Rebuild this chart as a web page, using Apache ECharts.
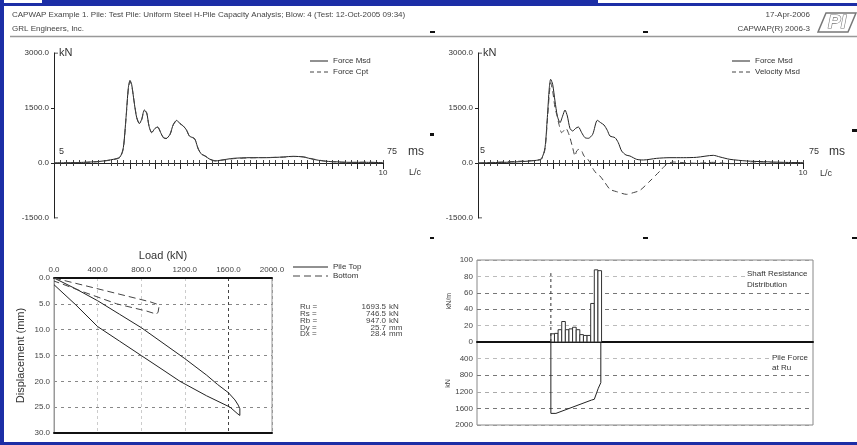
<!DOCTYPE html>
<html><head><meta charset="utf-8">
<script src="https://cdn.jsdelivr.net/npm/echarts@6/dist/echarts.min.js"></script>
<style>html,body{margin:0;padding:0;background:#fff}#c{width:857px;height:445px}</style>
</head><body><div id="c"></div>
<script>
const FONT = '"Liberation Sans", Arial, sans-serif';
const BLUE = '#1c2ea6';
const INK = '#222';

// ---------- Top-left: Force Msd / Force Cpt (time in ms, force in kN)
const tlTime = [5.0,11.24,14.79,17.62,19.04,19.75,20.32,20.82,21.17,21.52,22.02,22.59,23.16,23.65,24.22,24.72,25.21,25.78,26.49,27.06,27.70,28.26,28.83,29.68,30.39,31.10,31.81,32.52,33.23,33.79,34.50,35.00,35.71,36.42,37.13,38.19,39.26,40.32,43.16,46.70,50.25,53.79,55.92,58.05,60.18,62.30,64.43,67.98,71.52,74.93];
const tlForceMsd = [0,18,45,100,164,418,1236,2054,2254,2145,1691,1236,1073,1190,1445,1373,1009,827,945,982,827,691,664,782,1054,1163,1073,1009,891,736,691,645,373,236,191,100,55,73,127,145,145,164,182,164,100,55,36,18,18,9];
const tlForceCpt = [0,14,40,92,150,395,1205,2015,2215,2125,1705,1255,1085,1175,1425,1360,1020,840,930,972,835,700,672,775,1040,1150,1080,1000,885,745,700,650,385,245,195,108,62,70,118,140,150,160,176,168,108,60,32,14,22,8];

// ---------- Top-right: Force Msd / Velocity Msd
const trTime = [5.0,12.61,17.63,18.71,19.43,19.93,20.36,20.65,21.08,21.58,22.09,22.66,23.23,23.74,24.24,24.81,25.39,26.03,26.61,27.33,28.04,28.76,29.70,30.70,31.42,32.14,32.85,33.43,34.50,35.22,35.94,36.87,37.73,39.17,40.61,43.48,46.35,49.22,52.09,55.68,57.12,59.27,62.86,66.45,70.76,75.0];
const trForceMsd = [0,27,73,127,418,1236,2054,2282,2145,1691,1282,1100,1282,1445,1282,945,873,945,982,827,691,673,782,1163,1100,1036,891,736,691,554,327,218,191,100,82,127,145,145,155,209,164,100,55,36,18,9];
const trVelTime = [5.0,17.63,18.71,19.43,19.93,20.36,20.65,21.08,21.58,21.94,22.44,23.02,23.52,23.95,24.45,24.81,25.39,25.89,26.25,26.75,27.33,27.83,28.40,29.12,29.84,30.56,31.27,32.35,33.43,34.86,37.02,38.45,39.89,42.04,44.20,45.63,47.07,49.22,52.09,55.68,59.27,66.45,75.0];
const trVelocityMsd = [0,73,109,373,1145,1873,2190,1964,1509,1327,1054,827,891,945,827,691,418,191,327,373,327,191,145,9,-173,-291,-355,-536,-718,-782,-855,-809,-745,-491,-218,-36,27,9,-9,18,-18,0,0];

const forceTicks = [-1500, 0, 1500, 3000];
const msRange = [5, 75];
const lcRange = [-3, 10];
const msEndLabels = ['5', '75'];
const lcEndLabel = '10';

// ---------- Bottom-left: load (kN) vs displacement (mm)
const loadTicks = [0, 400, 800, 1200, 1600, 2000];
const dispTicks = [0, 5, 10, 15, 20, 25, 30];
const pileTopLoad = [0,200,400,600,800,1000,1200,1400,1500,1600,1660,1690,1705,1705,1680,1615,1400,1156,1000,800,600,400,200,0];
const pileTopDisp = [0,2.1,4.4,7.0,9.6,12.6,15.6,18.8,20.6,22.2,23.6,24.6,25.3,26.6,26.2,25.0,22.8,20.0,17.8,15.0,12.2,9.4,5.2,1.3];
const bottomLoad = [0,270,575,880,950,962,955,940,850,575,270,55,0];
const bottomDisp = [0,1.4,3.0,4.6,5.1,5.7,6.6,7.0,6.4,5.0,2.7,1.0,0.6];
const resultLabels = ['Ru =', 'Rs =', 'Rb =', 'Dy =', 'Dx ='];
const resultValues = ['1693.5', '746.5', '947.0', '25.7', '28.4'];
const resultUnits = ['kN', 'kN', 'kN', 'mm', 'mm'];

// ---------- Bottom-right: shaft resistance distribution and pile force at Ru
const shaftRes = [10, 10.5, 15, 25, 15, 16, 18, 15, 9, 8, 8, 47, 88, 87];   // kN/m per segment
const shaftTicks = [0, 20, 40, 60, 80, 100];
const pileForceTicks = [0, 400, 800, 1200, 1600, 2000];
const pileForcePos = [0, 0, 1.4, 11.2, 12.0, 13.1, 13.8, 13.8];   // segment units
const pileForceVal = [0, 1720, 1720, 1400, 1380, 1115, 980, 0];
const topMarker = [[0, 0], [0, 84]];
const depthRange = [-20.4, 72.4];

const zip = (a, b) => a.map((v, i) => [v, b[i]]);
const txt = (x, y, text, o = {}) => ({
  type: 'text', silent: true, z: 100,
  style: Object.assign({ x, y, text, font: (o.size || 8) + 'px ' + FONT, fill: o.color || '#333',
    align: o.align || 'left', verticalAlign: 'middle', textAlign: o.align || 'left', textVerticalAlign: 'middle' }, o.style || {}),
  rotation: o.rotation || 0
});
const rect = (x, y, w, h, fill) => ({ type: 'rect', silent: true, z: 100, shape: { x, y, width: w, height: h }, style: { fill } });
const seg = (x1, y1, x2, y2, dash, color) => ({ type: 'line', silent: true, z: 100, shape: { x1, y1, x2, y2 },
  style: { stroke: color || INK, lineWidth: 1, lineDash: dash || null } });

function timeAxes(g, yIdx) {
  return [
    { gridIndex: g, type: 'value', position: 'top', min: msRange[0], max: msRange[1], interval: 5,
      axisLine: { onZero: true, onZeroAxisIndex: yIdx, lineStyle: { color: INK, width: 1 } },
      axisTick: { show: false }, splitLine: { show: false }, axisLabel: { show: false } },
    { gridIndex: g, type: 'value', position: 'bottom', min: lcRange[0], max: lcRange[1], interval: 1,
      axisLine: { onZero: true, onZeroAxisIndex: yIdx, lineStyle: { color: INK, width: 1 } },
      axisTick: { show: true, length: 6, customValues: [0,1,2,3,4,5,6,7,8,9,10], lineStyle: { color: INK } },
      minorTick: { show: true, splitNumber: 4, length: 3, lineStyle: { color: '#444' } },
      splitLine: { show: false }, axisLabel: { show: false } },
    { gridIndex: g, type: 'value', position: 'top', min: lcRange[0], max: lcRange[1], interval: 1,
      axisLine: { show: false, onZero: true, onZeroAxisIndex: yIdx },
      axisTick: { show: true, length: 3, lineStyle: { color: '#444' } },
      minorTick: { show: true, splitNumber: 4, length: 3, lineStyle: { color: '#444' } },
      splitLine: { show: false }, axisLabel: { show: false } }
  ];
}
function forceAxis(g) {
  return { gridIndex: g, type: 'value', min: forceTicks[0], max: forceTicks[3], interval: 1500,
    axisLine: { show: true, onZero: false, lineStyle: { color: INK } },
    axisTick: { show: true, length: 3, customValues: [0, 1500], lineStyle: { color: INK } },
    splitLine: { show: false },
    axisLabel: { formatter: v => v.toFixed(1), fontSize: 8, margin: 5, color: '#333', fontFamily: FONT } };
}
const lineS = (name, xi, yi, data, dashed, extra = {}) => Object.assign({
  type: 'line', name, xAxisIndex: xi, yAxisIndex: yi, data, symbol: 'none', showSymbol: false,
  lineStyle: { color: dashed ? '#444' : INK, width: 1, type: dashed ? [6, 4] : 'solid' },
  itemStyle: { color: dashed ? '#444' : INK }, animation: false, silent: true
}, extra);

// legend drawn as plain text plus line swatches
function legendBlock(x1, x2, y0, dy, names, dashes) {
  const out = [];
  names.forEach((n, i) => {
    const y = y0 + i * dy;
    out.push(seg(x1, y, x2, y, dashes[i], dashes[i] ? '#444' : INK));
    out.push(txt(x2 + 5, y, n, { color: '#333' }));
  });
  return out;
}

const option = {
  animation: false,
  textStyle: { fontFamily: FONT },
  grid: [
    { left: 54, top: 53, width: 329, height: 165 },
    { left: 478, top: 53, width: 325, height: 165 },
    { left: 54, top: 278, width: 218, height: 155, show: true, borderColor: '#999', borderWidth: 1 },
    { left: 477, top: 260, width: 336, height: 82, show: true, borderColor: '#888', borderWidth: 1 },
    { left: 477, top: 342, width: 336, height: 83, show: true, borderColor: '#888', borderWidth: 1 }
  ],
  xAxis: [
    ...timeAxes(0, 0),
    ...timeAxes(1, 1),
    { gridIndex: 2, type: 'value', position: 'top', min: loadTicks[0], max: loadTicks[5], interval: 400,
      axisLine: { onZero: false, lineStyle: { color: '#111', width: 2 } }, axisTick: { show: false },
      axisLabel: { formatter: v => v.toFixed(1), fontSize: 8, margin: 4, color: '#444', fontFamily: FONT },
      name: 'Load (kN)', nameLocation: 'middle', nameGap: 17,
      nameTextStyle: { fontSize: 11, color: '#333', fontFamily: FONT },
      splitLine: { show: true, lineStyle: { type: [3, 3], width: 1, color: ['#999', '#ccc', '#ccc', '#ccc', '#444', '#999'] } } },
    { gridIndex: 2, type: 'value', position: 'bottom', min: loadTicks[0], max: loadTicks[5],
      axisLine: { onZero: false, lineStyle: { color: '#111', width: 2 } }, axisTick: { show: false },
      axisLabel: { show: false }, splitLine: { show: false } },
    { gridIndex: 3, type: 'value', position: 'bottom', min: depthRange[0], max: depthRange[1],
      axisLine: { onZero: false, lineStyle: { color: '#111', width: 2 } }, axisTick: { show: false },
      axisLabel: { show: false }, splitLine: { show: false } },
    { gridIndex: 4, type: 'value', position: 'top', min: depthRange[0], max: depthRange[1], show: false }
  ],
  yAxis: [
    forceAxis(0),
    forceAxis(1),
    { gridIndex: 2, type: 'value', inverse: true, min: dispTicks[0], max: dispTicks[6], interval: 5,
      axisLine: { show: true, onZero: false, lineStyle: { color: '#999' } }, axisTick: { show: false },
      axisLabel: { formatter: v => v.toFixed(1), fontSize: 8, margin: 4, color: '#444', fontFamily: FONT },
      splitLine: { show: true, lineStyle: { type: [3, 4], color: '#888' } },
      name: 'Displacement (mm)', nameLocation: 'middle', nameGap: 28,
      nameTextStyle: { fontSize: 11, color: '#333', fontFamily: FONT } },
    { gridIndex: 3, type: 'value', min: shaftTicks[0], max: shaftTicks[5], interval: 20,
      axisLine: { show: false }, axisTick: { show: false },
      axisLabel: { formatter: v => String(v), fontSize: 8, margin: 4, color: '#444', fontFamily: FONT },
      splitLine: { show: true, lineStyle: { type: [4, 4], color: ['#999', '#bbb', '#777', '#777', '#bbb', '#999'] } },
      name: 'kN/m', nameLocation: 'middle', nameGap: 24, nameTextStyle: { fontSize: 7, color: '#444', fontFamily: FONT } },
    { gridIndex: 4, type: 'value', inverse: true, min: pileForceTicks[0], max: pileForceTicks[5], interval: 400,
      axisLine: { show: false }, axisTick: { show: false },
      axisLabel: { formatter: v => String(v), fontSize: 8, margin: 4, color: '#444', fontFamily: FONT, showMinLabel: false },
      splitLine: { show: true, lineStyle: { type: [4, 4], color: ['#999', '#bbb', '#777', '#aaa', '#777', '#999'] } },
      name: 'kN', nameLocation: 'middle', nameGap: 24, nameTextStyle: { fontSize: 7, color: '#444', fontFamily: FONT } }
  ],
  series: [
    lineS('Force Msd', 0, 0, zip(tlTime, tlForceMsd), false, { smooth: 0.25 }),
    lineS('Force Cpt', 0, 0, zip(tlTime, tlForceCpt), true, { smooth: 0.25 }),
    lineS('', 0, 0, [[5, 3000], [5.85, 3000]], false),
    lineS('', 0, 0, [[5, -1500], [5.85, -1500]], false),
    lineS('Force Msd', 3, 1, zip(trTime, trForceMsd), false, { smooth: 0.25 }),
    lineS('Velocity Msd', 3, 1, zip(trVelTime, trVelocityMsd), true, { smooth: 0.25 }),
    lineS('', 3, 1, [[5, 3000], [5.86, 3000]], false),
    lineS('', 3, 1, [[5, -1500], [5.86, -1500]], false),
    lineS('Pile Top', 6, 2, zip(pileTopLoad, pileTopDisp), false),
    lineS('Bottom', 6, 2, zip(bottomLoad, bottomDisp), true, { lineStyle: { color: '#444', width: 1, type: [7, 4] } }),
    { type: 'custom', xAxisIndex: 8, yAxisIndex: 3, silent: true, animation: false,
      data: shaftRes.map((v, i) => [i, i + 1, v]), encode: { x: [0, 1], y: 2 },
      renderItem: (params, api) => {
        const p0 = api.coord([api.value(0), api.value(2)]);
        const p1 = api.coord([api.value(1), 0]);
        return { type: 'rect', shape: { x: p0[0], y: p0[1], width: p1[0] - p0[0], height: p1[1] - p0[1] },
          style: { fill: '#fff', stroke: '#333', lineWidth: 1 } };
      } },
    lineS('', 8, 3, topMarker, true, { lineStyle: { color: '#333', width: 1, type: [3, 3] } }),
    lineS('', 9, 4, zip(pileForcePos, pileForceVal), false)
  ],
  graphic: [
    rect(0, 0, 4, 445, BLUE),
    rect(42, 0, 556, 6, BLUE),
    rect(0, 3, 857, 3, BLUE),
    rect(0, 442, 857, 3, BLUE),
    { type: 'line', silent: true, shape: { x1: 10, y1: 36.5, x2: 857, y2: 36.5 }, style: { stroke: '#999', lineWidth: 1.5 } },
    txt(12, 15, 'CAPWAP Example 1. Pile: Test Pile: Uniform Steel H-Pile Capacity Analysis; Blow: 4 (Test: 12-Oct-2005 09:34)', { color: '#444' }),
    txt(12, 29, 'GRL Engineers, Inc.', { color: '#444' }),
    txt(810, 15, '17-Apr-2006', { align: 'right', color: '#444' }),
    txt(810, 29, 'CAPWAP(R) 2006-3', { align: 'right', color: '#444' }),
    { type: 'polygon', silent: true, shape: { points: [[818, 32], [826, 13], [856, 13], [848, 32]] },
      style: { fill: 'none', stroke: '#777', lineWidth: 1.5 } },
    txt(837, 23, 'PI', { align: 'center', size: 19, style: { font: 'italic bold 19px ' + FONT, fill: '#fff', stroke: '#777', lineWidth: 1.2 } }),
    rect(430, 31, 5, 2, '#111'), rect(643, 31, 5, 2, '#111'),
    rect(430, 133, 4, 3, '#111'), rect(852, 129, 5, 3, '#111'),
    rect(430, 237, 4, 2, '#111'), rect(643, 237, 5, 2, '#111'), rect(852, 237, 5, 2, '#111'),
    txt(59, 53, 'kN', { size: 11, color: '#333' }),
    txt(483, 53, 'kN', { size: 11, color: '#333' }),
    // time-axis end labels (ms above the line, L/c below)
    txt(59, 152, msEndLabels[0], { size: 9 }),
    txt(387, 152, msEndLabels[1], { size: 9 }),
    txt(383, 173, lcEndLabel, { size: 8, align: 'center' }),
    txt(480, 151, msEndLabels[0], { size: 9 }),
    txt(809, 152, msEndLabels[1], { size: 9 }),
    txt(803, 173, lcEndLabel, { size: 8, align: 'center' }),
    txt(408, 152, 'ms', { size: 12, color: '#333' }),
    txt(409, 173, 'L/c', { size: 9, color: '#333' }),
    txt(829, 152, 'ms', { size: 12, color: '#333' }),
    txt(820, 174, 'L/c', { size: 9, color: '#333' }),
    ...legendBlock(310, 328, 61, 11, ['Force Msd', 'Force Cpt'], [null, [4, 3]]),
    ...legendBlock(732, 750, 61, 11, ['Force Msd', 'Velocity Msd'], [null, [4, 3]]),
    ...legendBlock(293, 328, 267, 9, ['Pile Top', 'Bottom'], [null, [7, 4]]),
    ...resultLabels.map((t, i) => txt(300, 307 + i * 6.8, t, { color: '#444' })),
    ...resultValues.map((t, i) => txt(386, 307 + i * 6.8, t, { align: 'right', color: '#444' })),
    ...resultUnits.map((t, i) => txt(389, 307 + i * 6.8, t, { color: '#444' })),
    txt(745, 274, 'Shaft Resistance', { color: '#333', style: { backgroundColor: '#fff', padding: [1, 2] } }),
    txt(745, 285, 'Distribution', { color: '#333', style: { backgroundColor: '#fff', padding: [1, 2] } }),
    txt(770, 358, 'Pile Force', { color: '#333', style: { backgroundColor: '#fff', padding: [1, 2] } }),
    txt(770, 368, 'at Ru', { color: '#333', style: { backgroundColor: '#fff', padding: [1, 2] } })
  ]
};
const chart = echarts.init(document.getElementById('c'), null, { renderer: 'canvas' });
chart.setOption(option);
</script></body></html>
